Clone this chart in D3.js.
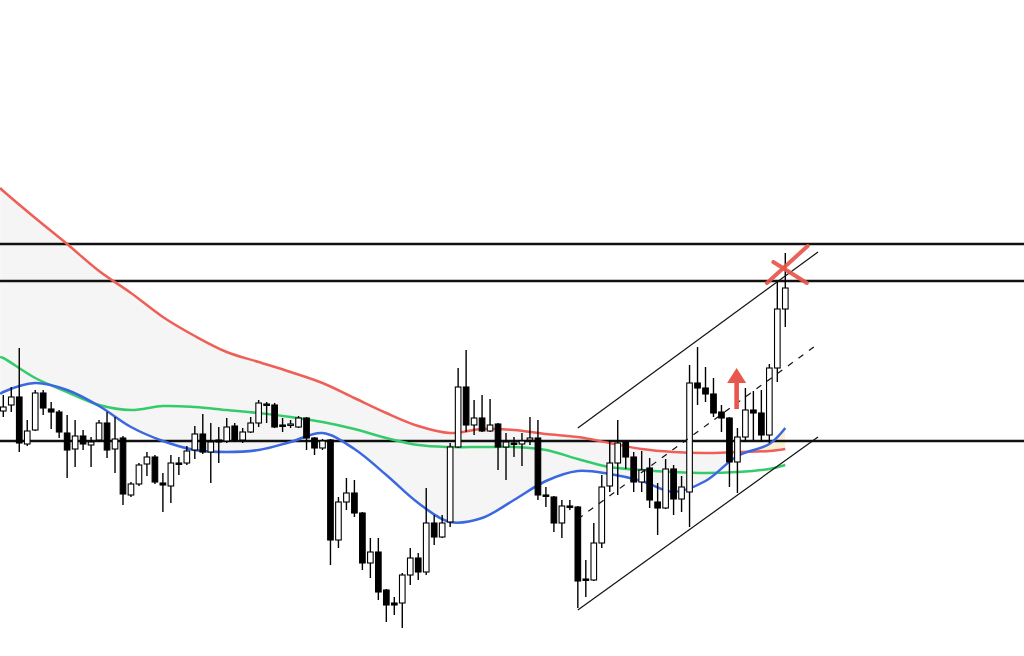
<!DOCTYPE html>
<html><head><meta charset="utf-8">
<script src="https://cdn.jsdelivr.net/npm/d3@7"></script>
<style>html,body{margin:0;padding:0;background:#fff;overflow:hidden}</style>
</head><body><svg id="chart" width="1024" height="656"></svg>
<script>
// ---- candle data (price) ----
const openP = [145.89,145.95,146.03,145.56,145.70,146.07,145.91,145.88,145.67,145.51,
145.64,145.55,145.60,145.77,145.51,145.62,145.05,145.16,145.36,145.43,
145.17,145.14,145.37,145.37,145.50,145.66,145.48,145.60,145.59,145.74,
145.60,145.68,145.77,145.96,145.95,145.75,145.75,145.73,145.82,145.62,
145.52,145.60,144.60,144.98,145.07,144.87,144.37,144.48,144.10,143.97,
143.97,144.25,144.42,144.28,144.77,144.63,144.78,145.53,146.13,145.75,
145.82,145.69,145.76,145.53,145.57,145.56,145.60,145.62,145.05,145.03,
144.77,144.94,144.93,144.21,144.20,144.57,145.14,145.37,145.58,145.43,
145.18,145.32,144.98,144.92,145.31,145.01,145.08,146.17,146.12,146.06,
145.88,145.82,145.38,145.63,145.90,145.87,145.65,146.32,146.91];
const highP = [146.05,146.13,146.52,145.80,146.10,146.10,145.98,145.90,145.85,145.80,
145.70,145.63,145.80,145.88,145.83,145.64,145.18,145.37,145.48,145.45,
145.27,145.45,145.43,145.54,145.74,145.86,145.77,145.73,145.82,145.77,
145.72,145.83,146.00,145.98,145.97,145.82,145.80,145.84,145.83,145.63,
145.61,145.61,145.03,145.22,145.20,144.88,144.62,144.62,144.11,144.03,
144.27,144.52,144.47,145.12,144.85,144.85,145.57,146.32,146.50,146.00,
146.05,146.01,145.77,145.67,145.63,145.67,145.83,145.80,145.13,145.04,
145.00,145.00,144.94,144.40,144.77,145.25,145.60,145.80,145.59,145.48,
145.49,145.42,145.17,145.41,145.35,145.24,146.35,146.53,146.33,146.22,
145.95,145.83,145.72,146.12,146.09,146.10,146.36,147.18,147.47];
const lowP = [145.83,145.88,145.48,145.54,145.69,145.85,145.71,145.62,145.22,145.33,
145.50,145.33,145.58,145.42,145.27,144.95,145.03,145.14,145.24,145.16,
144.88,144.97,145.25,145.35,145.41,145.46,145.17,145.37,145.57,145.58,
145.57,145.67,145.73,145.77,145.72,145.68,145.72,145.72,145.50,145.45,
145.50,144.35,144.52,144.90,144.83,144.30,144.22,144.00,143.78,143.85,
143.72,144.15,144.20,144.25,144.55,144.62,144.73,145.52,145.68,145.65,
145.68,145.68,145.30,145.20,145.43,145.34,145.55,145.00,144.93,144.68,
144.62,144.90,143.92,144.03,144.19,144.52,145.08,145.05,145.31,145.08,
145.08,144.92,144.65,144.91,144.85,144.88,144.73,145.95,145.98,145.83,
145.68,145.13,145.07,145.58,145.60,145.58,145.57,146.18,146.73];
const closeP = [145.93,146.03,145.57,145.69,146.07,145.92,145.88,145.68,145.50,145.64,
145.56,145.58,145.77,145.50,145.61,145.06,145.16,145.35,145.43,145.18,
145.15,145.37,145.36,145.49,145.66,145.48,145.58,145.58,145.73,145.60,
145.68,145.77,145.97,145.95,145.73,145.74,145.76,145.82,145.62,145.52,
145.59,144.60,144.98,145.07,144.87,144.37,144.48,144.08,143.95,143.95,
144.25,144.42,144.28,144.77,144.63,144.77,145.53,146.13,145.75,145.82,
145.69,145.75,145.53,145.58,145.56,145.59,145.62,145.05,145.04,144.77,
144.94,144.93,144.19,144.20,144.57,145.13,145.37,145.57,145.43,145.18,
145.30,145.00,144.92,145.31,145.01,145.13,146.17,146.12,146.06,145.87,
145.82,145.38,145.63,145.90,145.87,145.65,146.32,146.91,147.12];

// ---- moving averages, sampled at candle indices ----
const maIndex = [-0.4,0,4,8,12,16,20,24,28,32,36,40,44,48,52,56,60,64,68,72,76,80,84,88,92,96,98];
const maRed   = [148.12,148.09,147.82,147.56,147.29,147.07,146.83,146.64,146.48,146.38,146.28,146.17,146.02,145.87,145.74,145.67,145.71,145.70,145.66,145.63,145.57,145.51,145.48,145.47,145.48,145.49,145.51];
const maGreen = [146.43,146.42,146.22,146.08,145.95,145.90,145.94,145.93,145.90,145.87,145.83,145.78,145.71,145.62,145.55,145.53,145.53,145.53,145.50,145.41,145.33,145.30,145.28,145.27,145.28,145.31,145.35];
const maBlue  = [146.06,146.08,146.17,146.10,145.94,145.73,145.59,145.50,145.48,145.50,145.58,145.67,145.51,145.25,144.97,144.78,144.82,145.00,145.19,145.29,145.26,145.19,145.08,145.19,145.44,145.56,145.72];

// ---- horizontal levels & channel ----
const levels = [147.56, 147.19, 145.59];
const channelIndex = [72, 102.1];
const channelUpper = [145.72, 147.48];
const channelLower = [143.90, 145.63];
const channelMid   = [144.81, 146.56];

// ---- annotations ----
const crossA = [[95.7,147.17],[100.8,147.54]];
const crossB = [[96.5,147.38],[100.7,147.17]];
const arrowIndex = 91.9, arrowTip = 146.32, arrowNeck = 146.17, arrowBase = 145.91;

const W = 1024, H = 656;
const svg = d3.select('#chart');
const x = d3.scaleLinear().domain([0, 98]).range([3.3, 785.3]);
const y = d3.scaleLinear().domain([143.44, 150.00]).range([H, 0]);

const candles = openP.map((o,i)=>({i, o, h:highP[i], l:lowP[i], c:closeP[i]}));
const ma = maIndex.map((k,j)=>({k, r:maRed[j], g:maGreen[j], b:maBlue[j]}));

const curve = d3.curveCatmullRom.alpha(0.5);
const defs = svg.append('defs');
defs.append('clipPath').attr('id','belowRed').append('path')
  .attr('d', d3.area().curve(curve).x(d=>x(d.k)).y0(H+10).y1(d=>y(d.r))(ma));
defs.append('clipPath').attr('id','aboveRed').append('path')
  .attr('d', d3.area().curve(curve).x(d=>x(d.k)).y0(-10).y1(d=>y(d.r))(ma));

const band = d3.area().curve(curve).x(d=>x(d.k)).y0(d=>y(d.r)).y1(d=>y(d.b));
svg.append('path').attr('d', band(ma)).attr('fill','#f5f5f5').attr('clip-path','url(#belowRed)');
svg.append('path').attr('d', band(ma)).attr('fill','#fbf0d2').attr('clip-path','url(#aboveRed)');

// horizontal levels
svg.selectAll('line.level').data(levels).join('line').attr('class','level')
  .attr('x1',0).attr('x2',W).attr('y1',d=>y(d)).attr('y2',d=>y(d))
  .attr('stroke','#111').attr('stroke-width',2.6);

// MAs
const maLine = key => d3.line().curve(curve).x(d=>x(d.k)).y(d=>y(d[key]));
[['r','#ef5f57'],['g','#34cc6a'],['b','#3a68e0']].forEach(([k,col])=>{
  svg.append('path').attr('d', maLine(k)(ma)).attr('fill','none')
    .attr('stroke',col).attr('stroke-width',2.5).attr('stroke-linejoin','round');
});

// candles
const g = svg.append('g');
g.selectAll('line.wick').data(candles).join('line').attr('class','wick')
  .attr('x1',d=>x(d.i)).attr('x2',d=>x(d.i)).attr('y1',d=>y(d.h)).attr('y2',d=>y(d.l))
  .attr('stroke','#000').attr('stroke-width',1.4);
const bw = 5.6;
g.selectAll('rect.body').data(candles).join('rect').attr('class','body')
  .attr('x',d=>x(d.i)-bw/2).attr('width',bw)
  .attr('y',d=>y(Math.max(d.o,d.c)))
  .attr('height',d=>Math.max(1.4, Math.abs(y(d.o)-y(d.c))))
  .attr('fill',d=>d.c>=d.o?'#fff':'#000').attr('stroke','#000').attr('stroke-width',1.1);

// channel
const ch = channelIndex.map((k,j)=>({k, u:channelUpper[j], l:channelLower[j], m:channelMid[j]}));
const chLine = key => d3.line().x(d=>x(d.k)).y(d=>y(d[key]));
svg.append('path').attr('d',chLine('u')(ch)).attr('stroke','#111').attr('stroke-width',1.2).attr('fill','none');
svg.append('path').attr('d',chLine('l')(ch)).attr('stroke','#111').attr('stroke-width',1.2).attr('fill','none');
svg.append('path').attr('d',chLine('m')(ch)).attr('stroke','#111').attr('stroke-width',1.2).attr('fill','none').attr('stroke-dasharray','6,7');

// red X
[crossA, crossB].forEach(seg=>{
  svg.append('line').attr('x1',x(seg[0][0])).attr('y1',y(seg[0][1]))
    .attr('x2',x(seg[1][0])).attr('y2',y(seg[1][1]))
    .attr('stroke','#e8564c').attr('stroke-width',4).attr('stroke-linecap','round').attr('opacity',0.92);
});

// red arrow
const ax = x(arrowIndex);
svg.append('rect').attr('x',ax-2.3).attr('width',4.6).attr('y',y(arrowNeck)-1).attr('height',y(arrowBase)-y(arrowNeck)+1)
  .attr('fill','#e8564c');
svg.append('path').attr('d',`M${ax},${y(arrowTip)} L${ax+9.5},${y(arrowNeck)} L${ax-9.5},${y(arrowNeck)} Z`)
  .attr('fill','#e8564c');
</script></body></html>
